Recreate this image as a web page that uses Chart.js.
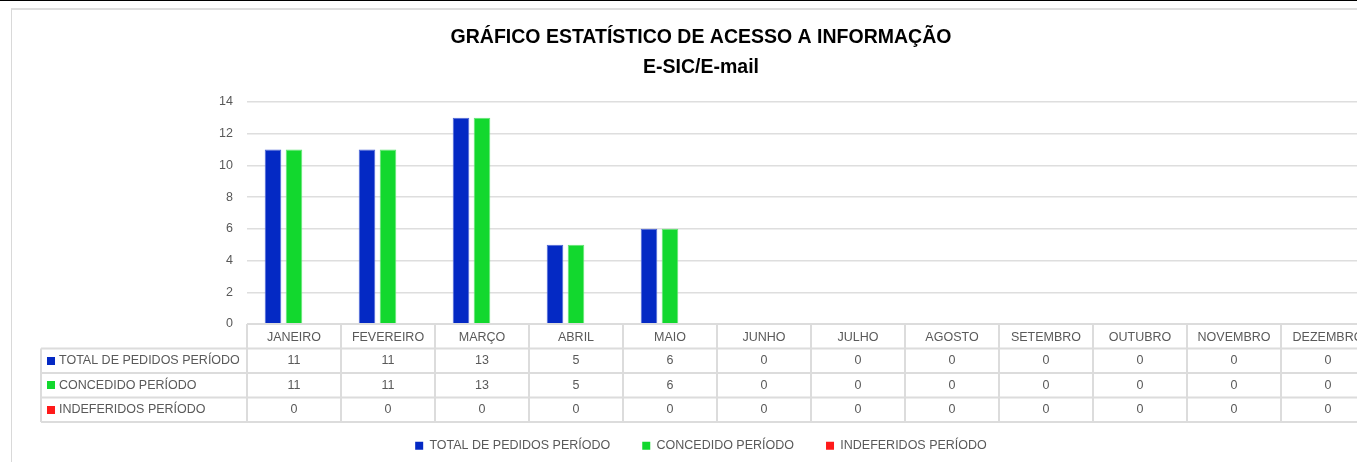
<!DOCTYPE html>
<html>
<head>
<meta charset="utf-8">
<script src="https://cdn.jsdelivr.net/npm/chart.js@4.4.1/dist/chart.umd.min.js"></script>
<style>
html,body{margin:0;padding:0;background:#fff;overflow:hidden;width:1357px;height:462px;}
#topline{position:absolute;left:0;top:0;width:1357px;height:1px;background:#000;}
#frame{position:absolute;left:11px;top:8px;width:1400px;height:500px;border-left:1px solid #d9d9d9;border-top:2px solid #dedede;box-sizing:border-box;}
#wrap{position:absolute;left:0;top:0;width:1402px;height:462px;}
</style>
</head>
<body>
<div id="topline"></div>
<div id="frame"></div>
<div id="wrap"><canvas id="c" width="1402" height="462"></canvas></div>
<script>
// ---- data ----
const categories = ['JANEIRO','FEVEREIRO','MARÇO','ABRIL','MAIO','JUNHO','JULHO','AGOSTO','SETEMBRO','OUTUBRO','NOVEMBRO','DEZEMBRO'];
const seriesNames = ['TOTAL DE PEDIDOS PERÍODO','CONCEDIDO PERÍODO','INDEFERIDOS PERÍODO'];
const totalPedidos = [11,11,13,5,6,0,0,0,0,0,0,0];
const concedido = [11,11,13,5,6,0,0,0,0,0,0,0];
const indeferidos = [0,0,0,0,0,0,0,0,0,0,0,0];
const yTickValues = [0,2,4,6,8,10,12,14];
const titleLines = ['GRÁFICO ESTATÍSTICO DE ACESSO A INFORMAÇÃO','E-SIC/E-mail'];

// ---- styles ----
const FONT = "'Liberation Sans', Arial, sans-serif";
const TXT = '#595959';
const LINE = '#dcdcdc';
const colors = ['#0429c4','#12d82e','#ff1a1a'];
const borders = ['#4d66d6','#62e473','#ff6b6b'];

const tablePlugin = {
  id: 'dataTable',
  afterDraw(chart) {
    const {ctx, chartArea} = chart;
    const x = chart.scales.x;
    const n = categories.length;
    const cw = x.getPixelForValue(1) - x.getPixelForValue(0);
    const left = x.getPixelForValue(0) - cw / 2;
    const right = x.getPixelForValue(n - 1) + cw / 2;
    const top = chartArea.bottom;
    const rowH = 24.5;
    const labelLeft = 41;
    const ds = chart.data.datasets;
    const bottom = top + (ds.length + 1) * rowH;
    ctx.save();
    ctx.strokeStyle = LINE;
    ctx.lineWidth = 2;
    ctx.beginPath();
    ctx.moveTo(left, top); ctx.lineTo(right, top);
    for (let r = 1; r <= ds.length + 1; r++) {
      const y = top + r * rowH;
      ctx.moveTo(labelLeft, y); ctx.lineTo(right, y);
    }
    for (let i = 0; i <= n; i++) {
      const xx = left + i * cw;
      ctx.moveTo(xx, top); ctx.lineTo(xx, bottom);
    }
    ctx.moveTo(labelLeft, top + rowH); ctx.lineTo(labelLeft, bottom);
    ctx.stroke();

    ctx.font = '12.5px ' + FONT;
    ctx.textBaseline = 'middle';
    ds.forEach((d, r) => {
      const yc = top + (r + 1) * rowH + rowH / 2;
      ctx.fillStyle = d.backgroundColor;
      ctx.fillRect(labelLeft + 6, Math.round(yc - 4), 8, 8);
      ctx.fillStyle = TXT;
      ctx.textAlign = 'left';
      ctx.fillText(d.label, labelLeft + 18, yc);
      ctx.textAlign = 'center';
      d.data.forEach((v, j) => {
        ctx.fillText(String(v), x.getPixelForValue(j), yc);
      });
    });
    ctx.restore();
  }
};

const seriesData = [totalPedidos, concedido, indeferidos];

new Chart(document.getElementById('c'), {
  type: 'bar',
  data: {
    labels: categories,
    datasets: seriesNames.map((name, i) => ({
      label: name,
      data: seriesData[i],
      backgroundColor: colors[i],
      borderColor: borders[i],
      borderWidth: 1,
      categoryPercentage: 0.67,
      barPercentage: 0.79
    }))
  },
  options: {
    responsive: false,
    animation: false,
    devicePixelRatio: 1,
    layout: {padding: 0},
    plugins: {
      title: {
        display: true,
        text: titleLines,
        color: '#000',
        font: {family: FONT, size: 19.5, weight: 'bold', lineHeight: '30px'},
        padding: {top: 23, bottom: 19}
      },
      legend: {
        position: 'bottom',
        labels: {
          boxWidth: 8,
          boxHeight: 8,
          padding: 32,
          color: TXT,
          font: {family: FONT, size: 12.5},
          generateLabels(chart) {
            const items = Chart.defaults.plugins.legend.labels.generateLabels(chart);
            items.forEach(it => { it.lineWidth = 0; });
            return items;
          }
        }
      },
      tooltip: {enabled: false}
    },
    scales: {
      x: {
        offset: true,
        grid: {display: false, drawTicks: false},
        border: {display: false},
        ticks: {color: TXT, font: {family: FONT, size: 12.5}, padding: 6, autoSkip: false, maxRotation: 0},
        afterFit(s) { s.height = 83.5; }
      },
      y: {
        min: 0,
        max: 14,
        afterBuildTicks(s) { s.ticks = yTickValues.map(v => ({value: v})); },
        ticks: {color: TXT, font: {family: FONT, size: 12.5}, padding: 14},
        grid: {color: '#dedede', lineWidth: 1.5, drawTicks: false},
        border: {display: false},
        afterFit(s) { s.width = 247; }
      },
      yR: {
        position: 'right',
        display: true,
        ticks: {display: false},
        grid: {display: false, drawTicks: false},
        border: {display: false},
        afterFit(s) { s.width = 27; }
      }
    }
  },
  plugins: [tablePlugin]
});
</script>
</body>
</html>
